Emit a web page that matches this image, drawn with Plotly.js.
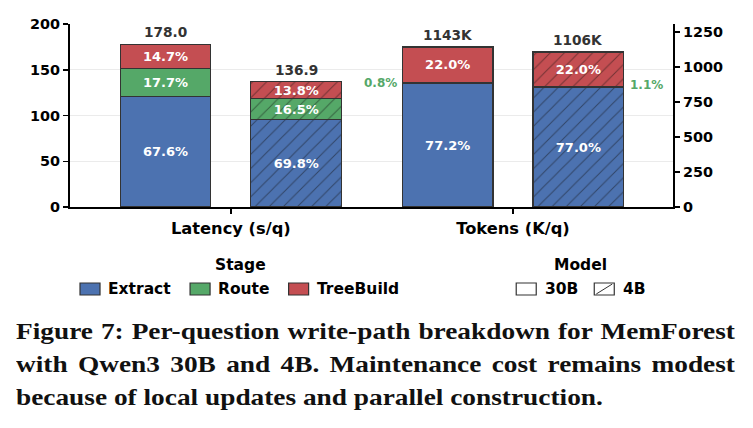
<!DOCTYPE html>
<html>
<head>
<meta charset="utf-8">
<script src="https://cdn.plot.ly/plotly-3.0.1.min.js"></script>
<style>
  html, body { margin: 0; padding: 0; background: #fff; }
  #wrap { position: relative; width: 753px; height: 428px; overflow: hidden; }
  #chart { position: absolute; left: 0; top: 0; width: 753px; height: 310px; }
  #caption { position: absolute; left: 16px; top: 315px; width: 719px;
    font-family: "Liberation Serif", serif; font-weight: bold; font-size: 24px;
    line-height: 33px; color: #111; transform-origin: 0 0; }
  #caption .j { text-align: justify; text-align-last: justify; white-space: nowrap; }
  #caption .l { text-align: left; white-space: nowrap; }
  #caption span { white-space: nowrap; }
</style>
</head>
<body>
<div id="wrap">
  <div id="chart"></div>
  <div id="caption">
    <div class="j" id="cap1">Figure 7: Per-question write-path breakdown for MemForest</div>
    <div class="j" id="cap2">with Qwen3 30B and 4B. Maintenance cost remains modest</div>
    <div class="l" id="cap3">because of local updates and parallel construction.</div>
  </div>
</div>
<script>
// ---- data ----
const categories = ['Latency (s/q)', 'Tokens (K/q)'];
const models = ['30B', '4B'];
const stages = ['Extract', 'Route', 'TreeBuild'];
const latencyTotals = [178.0, 136.9];          // 30B, 4B (s/q)
const tokenTotals = [1143, 1106];              // 30B, 4B (K/q)
const latencyPct30B = [67.6, 17.7, 14.7];      // Extract, Route, TreeBuild
const latencyPct4B  = [69.8, 16.5, 13.8];
const tokenPct30B   = [77.2, 0.8, 22.0];
const tokenPct4B    = [77.0, 1.1, 22.0];
const leftTicks = [0, 50, 100, 150, 200];
const rightTicks = [0, 250, 500, 750, 1000, 1250];
const legendTitles = ['Stage', 'Model'];

// ---- style / layout constants ----
const stageColors = ['#4C72B0', '#55A868', '#C44E52'];
const FONT = 'DejaVu Sans';
const modelOffset = [-0.2316, 0.2316];
const barWidth = 0.3216;
const EDGE = '#333333';
const PLOT = { l: 70, r: 672.7, t: 24, b: 207 };

// caption fit: widen the serif text horizontally, but keep every line within the text width
(function fitCaption() {
  const cap = document.getElementById('caption');
  const measure = id => {
    const el = document.getElementById(id);
    const s = document.createElement('span');
    s.textContent = el.textContent;
    document.body.appendChild(s);
    s.style.font = getComputedStyle(cap).font;
    s.style.position = 'absolute'; s.style.visibility = 'hidden';
    const w = s.getBoundingClientRect().width;
    s.remove();
    return w;
  };
  const w1 = measure('cap1'), w2 = measure('cap2'), w3 = measure('cap3');
  let r = Math.min(612 / w3, 712 / w1, 712 / w2);
  if (!(r > 0)) r = 1;
  cap.style.width = (719 / r).toFixed(2) + 'px';
  cap.style.transform = 'scaleX(' + r.toFixed(4) + ')';
})();

const metrics = [
  { totals: latencyTotals, pcts: [latencyPct30B, latencyPct4B], yaxis: 'y', fmt: v => v.toFixed(1) },
  { totals: tokenTotals, pcts: [tokenPct30B, tokenPct4B], yaxis: 'y2', fmt: v => v + 'K' }
];

const traces = [];
const annotations = [];
const shapes = [];

metrics.forEach((mt, ci) => {
  models.forEach((model, mi) => {
    const xpos = ci + modelOffset[mi];
    stages.forEach((stage, si) => {
      const pct = mt.pcts[mi][si];
      const val = mt.totals[mi] * pct / 100;
      const small = pct < 5;
      const marker = { color: stageColors[si], line: { color: EDGE, width: 1.1 } };
      if (mi === 1) marker.pattern = { shape: '/', fillmode: 'overlay', bgcolor: stageColors[si],
                                       fgcolor: 'rgba(15,15,15,0.9)', size: 10, solidity: 0.1 };
      traces.push({
        type: 'bar', x: [xpos], y: [val], width: barWidth, yaxis: mt.yaxis,
        name: stage + ' ' + model, showlegend: false,
        marker: marker,
        text: [small ? '' : pct.toFixed(1) + '%'],
        textposition: 'inside', insidetextanchor: 'middle', constraintext: 'none',
        textfont: { family: FONT, size: 13, color: '#ffffff', weight: 'bold' },
        hoverinfo: 'skip'
      });
      if (small) {
        const prev = mt.totals[mi] * mt.pcts[mi].slice(0, si).reduce((a, b) => a + b, 0) / 100;
        annotations.push({
          xref: 'x', yref: mt.yaxis, x: xpos + (mi === 0 ? -barWidth / 2 : barWidth / 2),
          y: prev + val / 2, xanchor: mi === 0 ? 'right' : 'left', yanchor: 'middle',
          xshift: mi === 0 ? -3 : 4, yshift: mi === 0 ? 0 : 2,
          text: pct.toFixed(1) + '%', showarrow: false,
          font: { family: FONT, size: 12, color: stageColors[si], weight: 'bold' }
        });
      }
    });
    annotations.push({
      xref: 'x', yref: mt.yaxis, x: xpos, y: mt.totals[mi], yanchor: 'bottom', yshift: 2,
      text: mt.fmt(mt.totals[mi]), showarrow: false,
      font: { family: FONT, size: 13.7, color: '#333333', weight: 'bold' }
    });
  });
});

// ---- manual legends (pixel positions -> paper coords) ----
const px2x = p => (p - PLOT.l) / (PLOT.r - PLOT.l);
const px2y = p => (PLOT.b - p) / (PLOT.b - PLOT.t);
const legFont = { family: FONT, size: 15.5, color: '#000', weight: 'bold' };
const legTitleY = 265, itemY = 289, swH = 12, swW = 20;
const stageSwatchX = [80, 190, 288.5];
const modelSwatchX = [516, 594];
const legendTitleX = [240.5, 580.5];

legendTitles.forEach((t, i) => {
  annotations.push({ xref: 'paper', yref: 'paper', x: px2x(legendTitleX[i]), y: px2y(legTitleY),
    xanchor: 'center', yanchor: 'middle', text: t, showarrow: false, font: legFont });
});
stages.forEach((s, i) => {
  const x0 = stageSwatchX[i];
  shapes.push({ type: 'rect', xref: 'paper', yref: 'paper',
    x0: px2x(x0), x1: px2x(x0 + swW), y0: px2y(itemY + swH / 2), y1: px2y(itemY - swH / 2),
    fillcolor: stageColors[i], line: { color: EDGE, width: 1.2 } });
  annotations.push({ xref: 'paper', yref: 'paper', x: px2x(x0 + swW + 6), y: px2y(itemY),
    xanchor: 'left', yanchor: 'middle', text: s, showarrow: false, font: legFont });
});
models.forEach((m, i) => {
  const x0 = modelSwatchX[i];
  shapes.push({ type: 'rect', xref: 'paper', yref: 'paper',
    x0: px2x(x0), x1: px2x(x0 + swW), y0: px2y(itemY + swH / 2), y1: px2y(itemY - swH / 2),
    fillcolor: '#ffffff', line: { color: EDGE, width: 1.2 } });
  if (i === 1) {
    shapes.push({ type: 'line', xref: 'paper', yref: 'paper',
      x0: px2x(x0 + 2), x1: px2x(x0 + swW - 2), y0: px2y(itemY + swH / 2 - 1), y1: px2y(itemY - swH / 2 + 1),
      line: { color: EDGE, width: 1 } });
  }
  annotations.push({ xref: 'paper', yref: 'paper', x: px2x(x0 + swW + 7), y: px2y(itemY),
    xanchor: 'left', yanchor: 'middle', text: m, showarrow: false, font: legFont });
});

const tickFont = { family: FONT, size: 14.4, color: '#000', weight: 'bold' };

const layout = {
  width: 753, height: 310,
  margin: { l: PLOT.l, r: 753 - PLOT.r, t: PLOT.t, b: 310 - PLOT.b },
  paper_bgcolor: '#fff', plot_bgcolor: '#fff',
  barmode: 'stack', bargap: 0,
  showlegend: false,
  xaxis: {
    range: [-0.570, 1.567], tickvals: [0, 1], ticktext: categories,
    showgrid: false, zeroline: false, showline: true, linecolor: '#000', linewidth: 2,
    ticks: 'outside', ticklen: 5, tickwidth: 1.5, tickcolor: '#000',
    tickfont: { family: FONT, size: 16.3, color: '#000', weight: 'bold' }
  },
  yaxis: {
    range: [0, 200], tickvals: leftTicks, showgrid: true, gridcolor: '#ebebeb', gridwidth: 1,
    zeroline: false, showline: true, linecolor: '#000', linewidth: 2,
    ticks: 'outside', ticklen: 5, tickwidth: 1.5, tickcolor: '#000', tickfont: tickFont
  },
  yaxis2: {
    overlaying: 'y', side: 'right', range: [0, 1307], tickvals: rightTicks,
    showgrid: false, zeroline: false, showline: true, linecolor: '#000', linewidth: 2,
    ticks: 'outside', ticklen: 5, tickwidth: 1.5, tickcolor: '#000', tickfont: tickFont
  },
  shapes: shapes,
  annotations: annotations
};

Plotly.newPlot('chart', traces, layout, { staticPlot: true, displayModeBar: false });
</script>
</body>
</html>
